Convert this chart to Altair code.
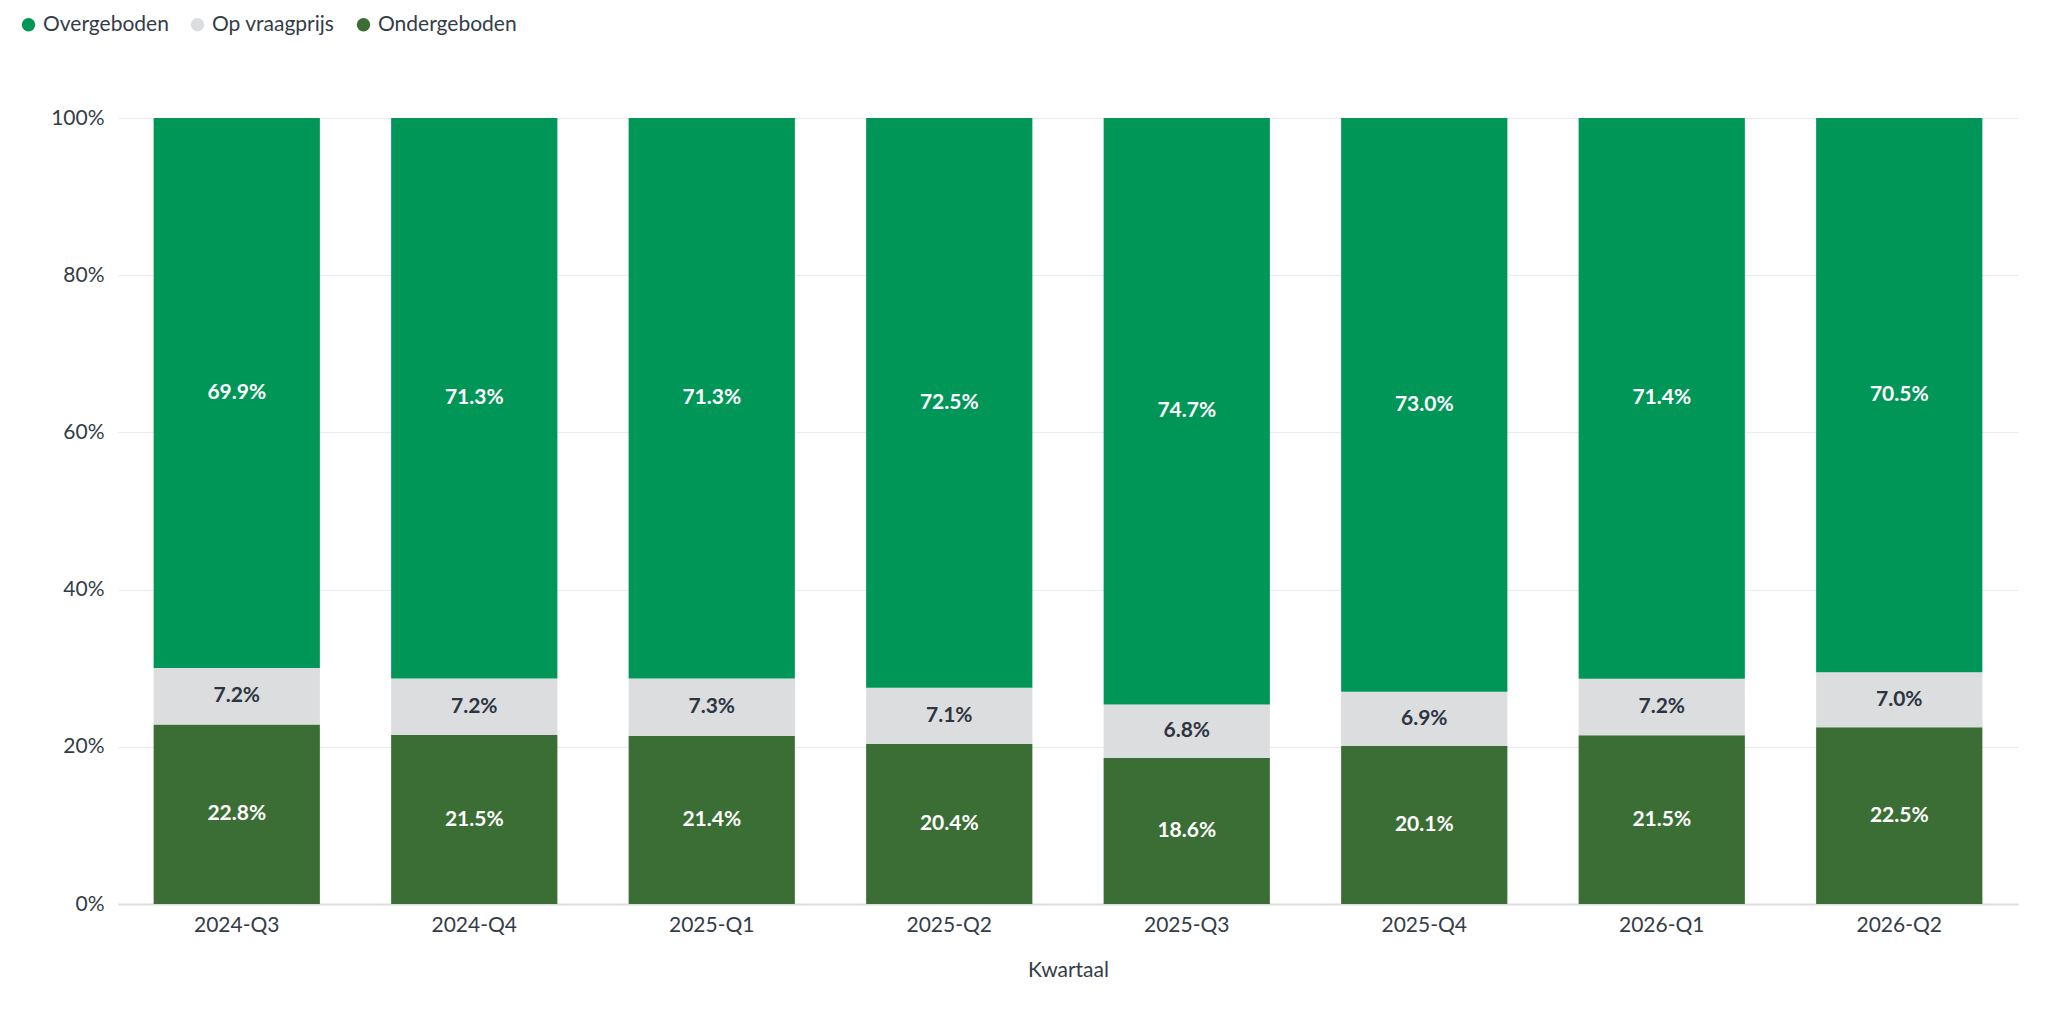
import altair as alt
import pandas as pd

quarters = ["2024-Q3","2024-Q4","2025-Q1","2025-Q2","2025-Q3","2025-Q4","2026-Q1","2026-Q2"]
over = [69.9,71.3,71.3,72.5,74.7,73.0,71.4,70.5]
op = [7.2,7.2,7.3,7.1,6.8,6.9,7.2,7.0]
onder = [22.8,21.5,21.4,20.4,18.6,20.1,21.5,22.5]
cats = ["Overgeboden","Op vraagprijs","Ondergeboden"]
colors = ["#009657","#dcdddf","#3b6e35"]
txtcol = {"Overgeboden":"white","Op vraagprijs":"#2d3540","Ondergeboden":"white"}

rows = []
for i,q in enumerate(quarters):
    for c,vals,o in [("Ondergeboden",onder,0),("Op vraagprijs",op,1),("Overgeboden",over,2)]:
        rows.append({"Kwartaal":q,"cat":c,"v":vals[i],"ord":o,"tc":txtcol[c]})
df = pd.DataFrame(rows)

base = alt.Chart(df).transform_stack(
    stack="v", groupby=["Kwartaal"], as_=["y0","y1"], offset="normalize",
    sort=[alt.SortField("ord", order="ascending")]
).transform_calculate(mid="(datum.y0+datum.y1)/2")

x = alt.X("Kwartaal:N", sort=quarters, title="Kwartaal",
          scale=alt.Scale(paddingInner=0.3, paddingOuter=0.15),
          axis=alt.Axis(labelAngle=0, ticks=False, domainColor="#dddddd", domainWidth=2,
                        labelFontSize=21, labelColor="#333d47", labelPadding=10,
                        titleFontSize=21, titleColor="#333d47", titleFontWeight="normal", titlePadding=24))

bars = base.mark_bar().encode(
    x=x,
    y=alt.Y("y0:Q", title=None, scale=alt.Scale(domain=[0,1]),
            axis=alt.Axis(format="%", values=[0,0.2,0.4,0.6,0.8,1.0], domain=False, ticks=False,
                          gridColor="#ebebeb", labelFontSize=21, labelColor="#333d47", labelPadding=14)),
    y2="y1:Q",
    color=alt.Color("cat:N", scale=alt.Scale(domain=cats, range=colors),
                    legend=alt.Legend(title=None, orient="none", direction="horizontal",
                                      legendX=-100, legendY=-104, symbolType="circle", symbolSize=180,
                                      labelFontSize=21, labelColor="#333d47", columnPadding=18,
                                      symbolStrokeWidth=0))
)

text = base.mark_text(font="Lato", fontSize=21, fontWeight="bold").encode(
    x=alt.X("Kwartaal:N", sort=quarters),
    y=alt.Y("mid:Q"),
    text=alt.Text("v:Q", format=".1f"),
    color=alt.Color("tc:N", scale=None),
)
text = text.transform_calculate(lab="format(datum.v,'.1f')+'%'").encode(text="lab:N")

chart = alt.layer(bars, text).properties(
    width=1900, height=786, autosize=alt.AutoSizeParams(type="none"),
    padding={"left":110,"top":110,"right":20,"bottom":100}
).configure(font="Lato").configure_view(stroke=None)

chart.save("out.html", embed_options={"renderer":"svg","actions":False})
